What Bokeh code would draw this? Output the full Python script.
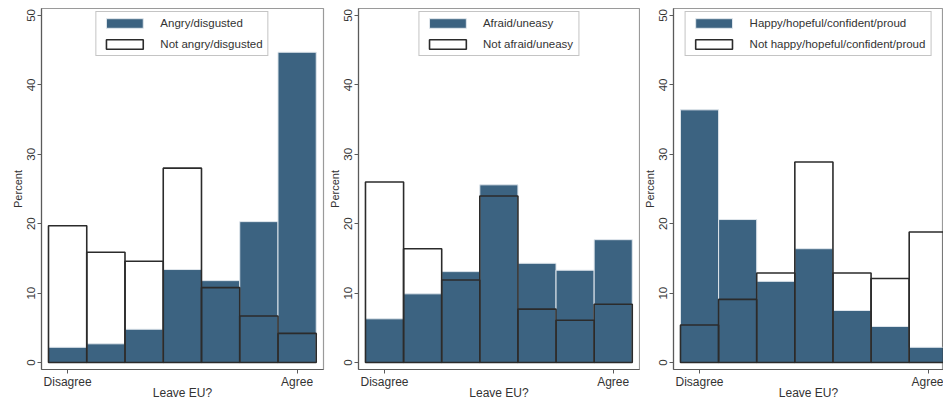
from bokeh.plotting import figure
from bokeh.layouts import row
from bokeh.models import FixedTicker, Range1d, Legend, LegendItem
from bokeh.embed import file_html
from bokeh.resources import INLINE

# ---- data ----
bins = [1, 2, 3, 4, 5, 6, 7]
x_tick_values = [1, 7]
x_tick_labels = ["Disagree", "Agree"]
y_ticks = [0, 10, 20, 30, 40, 50]

angry = [2.2, 2.7, 4.8, 13.4, 11.8, 20.3, 44.7]
not_angry = [19.7, 15.9, 14.6, 28.0, 10.8, 6.7, 4.2]

afraid = [6.3, 9.9, 13.1, 25.6, 14.3, 13.3, 17.7]
not_afraid = [26.0, 16.4, 11.9, 24.0, 7.7, 6.1, 8.4]

happy = [36.4, 20.6, 11.7, 16.4, 7.5, 5.2, 2.2]
not_happy = [5.4, 9.1, 12.9, 28.9, 12.9, 12.1, 18.8]

labels1 = ["Angry/disgusted", "Not angry/disgusted"]
labels2 = ["Afraid/uneasy", "Not afraid/uneasy"]
labels3 = ["Happy/hopeful/confident/proud", "Not happy/hopeful/confident/proud"]

x_label = "Leave EU?"
y_label = "Percent"

BLUE = "#3c6381"
FONT = "Liberation Sans"
TXT = "#333333"


def make_panel(blue_vals, white_vals, labels, width, left, right, x_end):
    p = figure(width=width, height=402, output_backend="svg", toolbar_location=None,
               x_range=Range1d(0.317, x_end), y_range=Range1d(-1.0, 51.0),
               min_border_left=left, min_border_right=right, min_border_top=8,
               min_border_bottom=30)
    p.xgrid.visible = False
    p.ygrid.visible = False
    p.outline_line_color = "#9a9a9a"
    p.outline_line_width = 1.2
    p.background_fill_color = "white"
    p.border_fill_color = "white"

    r1 = p.vbar(x=bins, top=blue_vals, width=1.0, bottom=0, fill_color=BLUE,
                line_color="#dfe6ec", line_width=1)
    r2 = p.vbar(x=bins, top=white_vals, width=1.0, bottom=0, fill_color=None,
                line_color="#2b2b2b", line_width=1.6)

    legend = Legend(items=[LegendItem(label=labels[0], renderers=[r1]),
                           LegendItem(label=labels[1], renderers=[r2])],
                    location="top_center", margin=3, padding=5, spacing=9,
                    glyph_width=46, glyph_height=12, label_height=12,
                    label_standoff=13, label_text_font=FONT,
                    label_text_font_size="11.5px", label_text_color=TXT,
                    border_line_color="#8a8a8a", border_line_width=1.2,
                    background_fill_alpha=1.0)
    p.add_layout(legend, "center")

    p.xaxis.ticker = FixedTicker(ticks=x_tick_values)
    p.xaxis.major_label_overrides = {v: l for v, l in zip(x_tick_values, x_tick_labels)}
    p.xaxis.axis_label = x_label
    p.yaxis.ticker = FixedTicker(ticks=y_ticks)
    p.yaxis.axis_label = y_label
    p.yaxis.major_label_orientation = "vertical"

    for ax in (p.xaxis, p.yaxis):
        ax.axis_line_color = "#5a5a5a"
        ax.axis_line_width = 1.2
        ax.major_tick_line_color = "#5a5a5a"
        ax.major_tick_in = 0
        ax.major_tick_out = 4
        ax.minor_tick_line_color = None
        ax.major_label_text_font = FONT
        ax.major_label_text_color = TXT
        ax.axis_label_text_font = FONT
        ax.axis_label_text_color = TXT
        ax.axis_label_text_font_style = "normal"
    p.xaxis.major_label_text_font_size = "12px"
    p.xaxis.axis_label_text_font_size = "12px"
    p.xaxis.major_label_standoff = 1
    p.xaxis.axis_label_standoff = -6
    p.yaxis.major_label_text_font_size = "11.5px"
    p.yaxis.axis_label_text_font_size = "11px"
    p.yaxis.major_label_standoff = 2
    p.yaxis.axis_label_standoff = 1
    return p


p1 = make_panel(angry, not_angry, labels1, 325, 41, 2, 7.69)
p2 = make_panel(afraid, not_afraid, labels2, 315, 32, 1, 7.69)
p3 = make_panel(happy, not_happy, labels3, 303, 32, 0, 7.40)

layout = row(p1, p2, p3)
open("out.html", "w").write(file_html(layout, INLINE))
